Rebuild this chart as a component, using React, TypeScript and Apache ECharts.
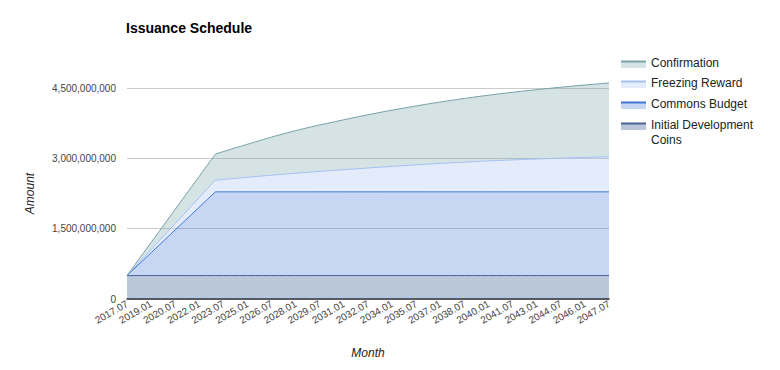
import React, { useEffect, useRef } from "react";
import * as echarts from "echarts";

const categories = [
  "2017.07","2018.01","2018.07","2019.01","2019.07","2020.01","2020.07","2021.01","2021.07","2022.01",
  "2022.07","2023.01","2023.07","2024.01","2024.07","2025.01","2025.07","2026.01","2026.07","2027.01",
  "2027.07","2028.01","2028.07","2029.01","2029.07","2030.01","2030.07","2031.01","2031.07","2032.01",
  "2032.07","2033.01","2033.07","2034.01","2034.07","2035.01","2035.07","2036.01","2036.07","2037.01",
  "2037.07","2038.01","2038.07","2039.01","2039.07","2040.01","2040.07","2041.01","2041.07","2042.01",
  "2042.07","2043.01","2043.07","2044.01","2044.07","2045.01","2045.07","2046.01","2046.07","2047.01",
  "2047.07",
];

// values in millions
const initialDevelopment = new Array(61).fill(500);

const commonsBudget = [
  0, 162, 325, 487, 649, 811, 974, 1136, 1298, 1460, 1623, 1785,
  1785, 1785, 1785, 1785, 1785, 1785, 1785, 1785, 1785, 1785, 1785, 1785, 1785,
  1785, 1785, 1785, 1785, 1785, 1785, 1785, 1785, 1785, 1785, 1785, 1785, 1785,
  1785, 1785, 1785, 1785, 1785, 1785, 1785, 1785, 1785, 1785, 1785, 1785, 1785,
  1785, 1785, 1785, 1785, 1785, 1785, 1785, 1785, 1785, 1785,
];

const freezingReward = [
  0, 23, 45, 68, 91, 114, 136, 159, 182, 205, 227, 250,
  266, 281, 296, 311, 326, 341, 356, 370, 384, 397, 410, 423, 436,
  449, 461, 473, 485, 497, 509, 521, 533, 544, 555, 566, 577, 587,
  597, 607, 616, 625, 634, 643, 651, 659, 667, 674, 681, 688, 695,
  701, 707, 713, 719, 724, 729, 734, 739, 743, 747,
];

const confirmation = [
  0, 50, 101, 151, 201, 252, 302, 353, 403, 453, 504, 554,
  594, 632, 669, 705, 742, 778, 813, 846, 878, 909, 938, 966, 991,
  1014, 1040, 1065, 1089, 1112, 1135, 1157, 1178, 1198, 1218, 1237, 1256, 1274,
  1292, 1309, 1326, 1342, 1358, 1373, 1388, 1402, 1416, 1429, 1442, 1455, 1467,
  1479, 1491, 1502, 1513, 1524, 1535, 1545, 1555, 1565, 1575,
];

const seriesNames = ["Initial Development Coins", "Commons Budget", "Freezing Reward", "Confirmation"];
const legendOrder = ["Confirmation", "Freezing Reward", "Commons Budget", "Initial Development Coins"];
const legendLabels = ["Confirmation", "Freezing Reward", "Commons Budget", "Initial Development\nCoins"];

const FONT = "'Liberation Sans', Arial, sans-serif";

const colors: Record<string, { line: string; fill: string }> = {
  "Initial Development Coins": { line: "#4a6298", fill: "#194180" },
  "Commons Budget": { line: "#4176d7", fill: "#4176d7" },
  "Freezing Reward": { line: "#a5c0f2", fill: "#a5c0f2" },
  Confirmation: { line: "#76a2a8", fill: "#76a2a8" },
};

export default function App() {
  const ref = useRef<HTMLDivElement>(null);

  useEffect(() => {
    if (!ref.current) return;
    const chart = echarts.init(ref.current, undefined, { renderer: "svg" });
    const dataMap: Record<string, number[]> = {
      "Initial Development Coins": initialDevelopment,
      "Commons Budget": commonsBudget,
      "Freezing Reward": freezingReward,
      Confirmation: confirmation,
    };

    const series = seriesNames.map((name) => ({
      name,
      type: "line",
      stack: "total",
      data: dataMap[name].map((v) => v * 1e6),
      showSymbol: false,
      symbol: "none",
      clip: false,
      lineStyle: { color: colors[name].line, width: 1 },
      itemStyle: { color: colors[name].line },
      areaStyle: { color: colors[name].fill, opacity: 0.3 },
    }));

    // positions relative to the chart div (page offset by 8px body margin)
    const legendTops = [54, 74, 95, 116];
    const legendGraphics: any[] = [];
    legendOrder.forEach((name, i) => {
      const cy = legendTops[i];
      legendGraphics.push({
        type: "rect",
        shape: { x: 613, y: cy - 1, width: 25, height: 7 },
        style: { fill: colors[name].fill, opacity: 0.3 },
      });
      legendGraphics.push({
        type: "line",
        shape: { x1: 613, y1: cy - 0.5, x2: 638, y2: cy - 0.5 },
        style: { stroke: colors[name].line, lineWidth: 2 },
      });
      legendGraphics.push({
        type: "text",
        x: 643,
        y: cy - 7,
        style: {
          text: legendLabels[i],
          font: `12px ${FONT}`,
          fill: "#222",
          lineHeight: 15,
          textVerticalAlign: "top",
        },
      });
    });

    chart.setOption({
      animation: false,
      backgroundColor: "#fff",
      title: {
        text: "Issuance Schedule",
        left: 113,
        top: 8,
        textStyle: { fontFamily: FONT, fontSize: 14, fontWeight: "bold", color: "#000" },
      },
      grid: { left: 119, right: 163, top: 80, bottom: 71, containLabel: false },
      xAxis: {
        type: "category",
        data: categories,
        boundaryGap: false,
        name: "Month",
        nameLocation: "middle",
        nameGap: 48,
        nameTextStyle: { fontFamily: FONT, fontSize: 12, fontStyle: "italic", color: "#222" },
        axisLine: { lineStyle: { color: "#333", width: 1.5 } },
        axisTick: { show: false },
        axisLabel: {
          interval: 2,
          rotate: 30,
          margin: 4,
          fontFamily: FONT,
          fontSize: 10,
          color: "#444",
        },
        splitLine: { show: false },
      },
      yAxis: {
        type: "value",
        min: 0,
        max: 4.5e9,
        interval: 1.5e9,
        name: "Amount",
        nameLocation: "middle",
        nameGap: 91,
        nameTextStyle: { fontFamily: FONT, fontSize: 12, fontStyle: "italic", color: "#222" },
        axisLine: { show: false },
        axisTick: { show: false },
        axisLabel: {
          margin: 11,
          fontFamily: FONT,
          fontSize: 10,
          color: "#444",
          formatter: (v: number) => v.toLocaleString("en-US"),
        },
        splitLine: { lineStyle: { color: "#cccccc", width: 1 } },
      },
      series,
      graphic: legendGraphics,
    });

    return () => chart.dispose();
  }, []);

  return <div ref={ref} style={{ width: 764, height: 362 }} />;
}
